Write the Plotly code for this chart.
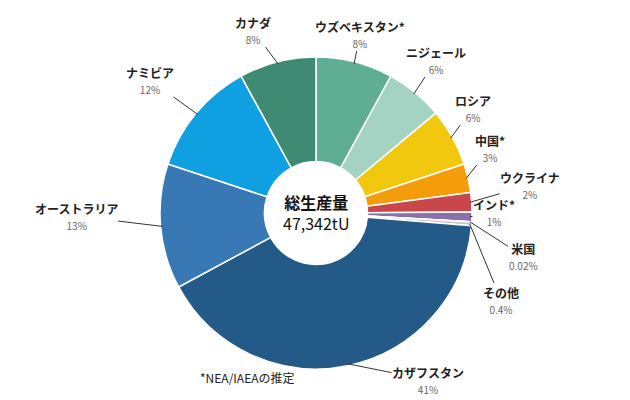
import math
import plotly.graph_objects as go

countries = ["ウズベキスタン*", "ニジェール", "ロシア", "中国*", "ウクライナ", "インド*",
             "米国", "その他", "カザフスタン", "オーストラリア", "ナミビア", "カナダ"]
shares = [8, 6, 6, 3, 2, 1, 0.02, 0.4, 41, 13, 12, 8]
share_text = ["8%", "6%", "6%", "3%", "2%", "1%", "0.02%", "0.4%", "41%", "13%", "12%", "8%"]
colors = ["#5fae94", "#a4d3c4", "#f2c80f", "#f59c0b", "#c9464b", "#8a6fa8",
          "#b7b7d8", "#c8c8c8", "#245a87", "#3879b5", "#0ea0e0", "#3f8a72"]

# where each label text sits (pixels)
label_pos = [(352, 26), (428, 52), (465, 100), (482, 140), (522, 177), (486, 205),
             (515, 248), (493, 292), (420, 372), (68, 208), (142, 72), (245, 22)]

W, H = 630, 400
cx, cy, r = 308, 205, 156

fig = go.Figure(go.Pie(
    labels=countries, values=shares, sort=False, direction="clockwise", rotation=0,
    hole=0.33, marker=dict(colors=colors, line=dict(color="white", width=1.5)),
    textinfo="none", hoverinfo="label+percent",
    domain=dict(x=[(cx - r) / W, (cx + r) / W], y=[(H - cy - r) / H, (H - cy + r) / H]),
))

total = sum(shares)
cum = 0
for name, v, t, (lx, ly) in zip(countries, shares, share_text, label_pos):
    mid = (cum + v / 2) / total * 2 * math.pi
    cum += v
    ex = cx + (r - 2) * math.sin(mid)
    ey = cy - (r - 2) * math.cos(mid)
    fig.add_annotation(
        x=ex / W, y=1 - ey / H, xref="paper", yref="paper",
        ax=lx - ex, ay=ly - ey, showarrow=True, arrowhead=0, arrowwidth=1, arrowcolor="#333",
        text=f"<b>{name}</b><br><span style='font-size:10px;color:#666'>{t}</span>",
        font=dict(size=12, color="#222"), borderpad=0,
    )

fig.add_annotation(x=cx / W, y=1 - cy / H, xref="paper", yref="paper", showarrow=False,
                   text="<b>総生産量</b><br>47,342tU", font=dict(size=16, color="#111"))
fig.add_annotation(x=190 / W, y=1 - 380 / H, xref="paper", yref="paper", showarrow=False,
                   text="*NEA/IAEAの推定", font=dict(size=12, color="#222"))

fig.update_layout(width=W, height=H, margin=dict(l=0, r=0, t=0, b=0), showlegend=False,
                  paper_bgcolor="white", font=dict(family="Noto Sans CJK JP"))
fig.write_html("out.html")
